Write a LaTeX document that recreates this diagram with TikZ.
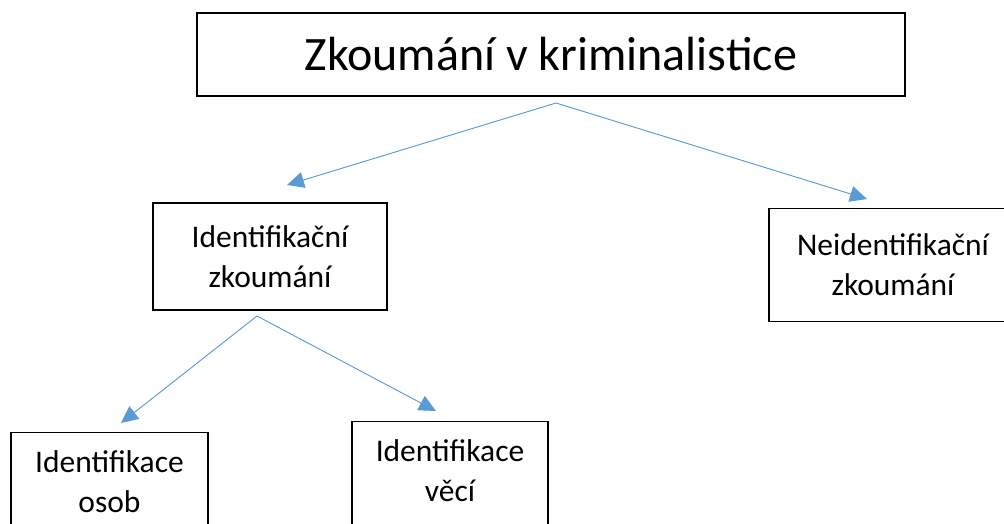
\documentclass[tikz,border=0pt]{standalone}
\usepackage{fontspec}
\setmainfont{Carlito}
\usepackage{tikz}
\usetikzlibrary{arrows.meta,positioning}
\definecolor{linkblue}{HTML}{5B9BD5}

\begin{document}
\begin{tikzpicture}[x=1pt,y=-1pt,>={Triangle[length=17pt,width=16pt]},semithick]
\tikzset{every box/.style={draw=black,line width=1.1pt,align=center,inner sep=0pt},
  topbox/.style={every box,minimum width=708pt,minimum height=83pt,font=\fontsize{48}{58}\selectfont},
  subbox/.style={every box,minimum height=107pt,font=\fontsize{31.5}{40}\selectfont},
  openbox/.style={subbox,minimum height=130pt,text depth=30pt},
  link/.style={->,draw=linkblue,fill=linkblue,line width=0.9pt}}
\useasboundingbox (0,0) rectangle (1004,524);
\node[topbox] (Z) at (551,54.5) {Zkoumání v kriminalistice};
\node[subbox,minimum width=234pt] (I) at (270,256.5) {Identifikační\\zkoumání};
\node[subbox,minimum width=248pt,minimum height=113pt] (N) at (893,265) {Neidentifikační\\zkoumání};
\node[openbox,minimum width=197pt,anchor=north] (O) at (109.5,431.5) {Identifikace\\osob};
\node[openbox,minimum width=196pt,anchor=north] (V) at (450,420.5) {Identifikace\\věcí};
\coordinate (Zs) at (556,103);
\coordinate (Is) at (257,316);
\coordinate (Ie) at (287,185);
\coordinate (Ne) at (867,199);
\coordinate (Oe) at (121,423);
\coordinate (Ve) at (436,411);
\path (Zs) edge[link] (Ie)
           edge[link] (Ne)
      (Is) edge[link] (Oe)
           edge[link] (Ve);
\end{tikzpicture}
\end{document}
